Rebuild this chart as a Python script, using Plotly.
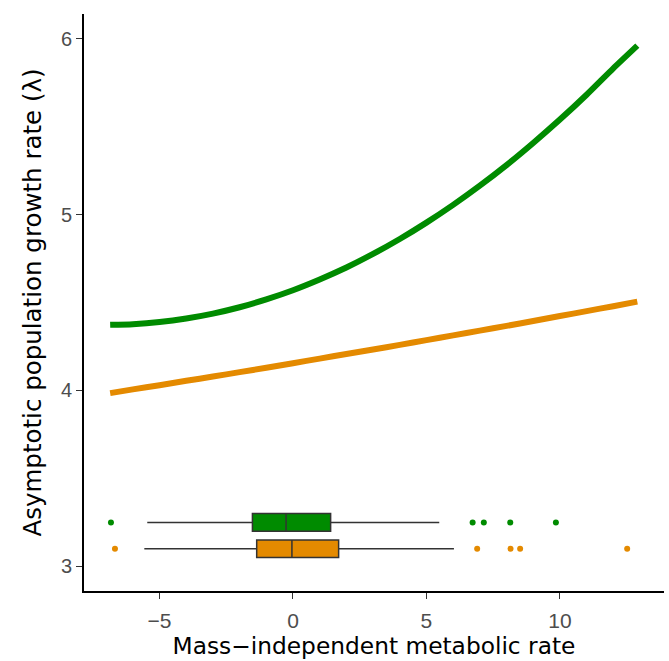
import plotly.graph_objects as go

# Fitted curves
curve_x = [-6.85, -6, -5, -4, -3, -2, -1, 0, 1, 2, 3, 4, 5, 6, 7, 8, 9, 10, 11, 12, 12.9]
green_y = [4.373, 4.377, 4.389, 4.409, 4.437, 4.473, 4.518, 4.57, 4.631, 4.699, 4.776, 4.861,
           4.954, 5.055, 5.164, 5.281, 5.407, 5.540, 5.681, 5.831, 5.96]
orange_y = [3.985, 4.006, 4.030, 4.055, 4.079, 4.104, 4.129, 4.155, 4.181, 4.207, 4.233, 4.259,
            4.286, 4.313, 4.340, 4.367, 4.395, 4.423, 4.451, 4.479, 4.505]

# Box plot summaries (horizontal)
groups_y = [3.25, 3.10]
box_colors = ["#008B00", "#E48A00"]
q1 = [-1.52, -1.36]
med = [-0.26, -0.04]
q3 = [1.41, 1.71]
lower = [-5.46, -5.57]
upper = [5.48, 6.03]
green_out = [-6.82, 6.73, 7.15, 8.14, 9.85]
orange_out = [-6.67, 6.90, 8.15, 8.51, 12.52]

x_ticks = [-5, 0, 5, 10]
x_labels = ["\u22125", "0", "5", "10"]
y_ticks = [3, 4, 5, 6]

fig = go.Figure()
fig.add_trace(go.Scatter(x=curve_x, y=green_y, mode="lines", line=dict(color=box_colors[0], width=6, shape="spline", smoothing=0.6), showlegend=False))
fig.add_trace(go.Scatter(x=curve_x, y=orange_y, mode="lines", line=dict(color=box_colors[1], width=6, shape="spline", smoothing=0.6), showlegend=False))

for i in range(2):
    fig.add_trace(go.Box(
        y=[groups_y[i]], q1=[q1[i]], median=[med[i]], q3=[q3[i]],
        lowerfence=[lower[i]], upperfence=[upper[i]],
        orientation="h", fillcolor=box_colors[i],
        line=dict(color="#333333", width=1.5), whiskerwidth=0,
        width=0.1, boxpoints=False, showlegend=False, hoverinfo="skip"))

fig.add_trace(go.Scatter(x=green_out, y=[groups_y[0]] * len(green_out), mode="markers",
                         marker=dict(color=box_colors[0], size=6), showlegend=False))
fig.add_trace(go.Scatter(x=orange_out, y=[groups_y[1]] * len(orange_out), mode="markers",
                         marker=dict(color=box_colors[1], size=6), showlegend=False))

axis_common = dict(showgrid=False, zeroline=False, showline=True, linecolor="black", linewidth=1.8,
                   ticks="outside", ticklen=6, tickwidth=1.4, tickcolor="#333333")
fig.update_layout(
    width=669, height=661,
    margin=dict(l=84, r=5, t=14, b=70),
    plot_bgcolor="white", paper_bgcolor="white",
    font=dict(family="Liberation Sans, Arial, sans-serif"),
    xaxis=dict(range=[-7.83, 13.9], tickvals=x_ticks, ticktext=x_labels,
               tickfont=dict(size=21, color="#4D4D4D"), ticklabelstandoff=4,
               title=dict(text="Mass\u2212independent metabolic rate",
                          font=dict(size=23.3, color="black", family="DejaVu Sans, sans-serif"), standoff=5),
               **axis_common),
    yaxis=dict(range=[2.86, 6.14], tickvals=y_ticks,
               tickfont=dict(size=20, color="#4D4D4D"),
               title=dict(text="Asymptotic population growth rate (\u03bb)",
                          font=dict(size=24.5, color="black", family="DejaVu Sans, sans-serif"), standoff=12),
               **axis_common),
)
fig.write_html("out.html", config={"displayModeBar": False},
               post_script="document.body.style.margin='0';document.body.style.overflow='hidden';")
